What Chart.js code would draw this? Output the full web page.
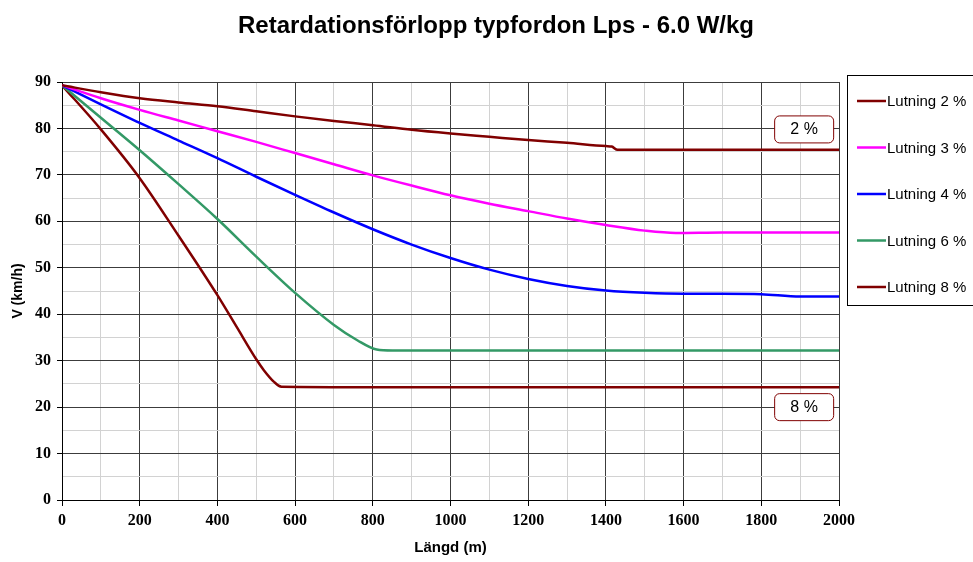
<!DOCTYPE html>
<html lang="sv">
<head>
    <meta charset="UTF-8">
    <title>Retardationsförlopp typfordon Lps - 6.0 W/kg</title>
    <script src="https://cdn.jsdelivr.net/npm/chart.js"></script>
    <style>
        html, body { margin: 0; padding: 0; background: #fff; }
        .chart-container { position: relative; width: 973px; height: 562px; }
    </style>
</head>
<body>
    <div class="chart-container">
        <canvas id="retChart" width="973" height="562"></canvas>
    </div>

    <script>
        // Längd (m) och hastighet (km/h)
        const len2 = [0, 100, 200, 300, 400, 500, 600, 700, 800, 900, 1000, 1100, 1200, 1300, 1400, 1415, 1430, 1600, 1800, 2000];
        const speed2 = [89.3, 87.8, 86.5, 85.6, 84.8, 83.7, 82.6, 81.6, 80.7, 79.7, 78.9, 78.2, 77.5, 76.9, 76.2, 76.1, 75.4, 75.4, 75.4, 75.4];

        const len3 = [0, 100, 200, 300, 400, 500, 600, 700, 800, 900, 1000, 1100, 1200, 1300, 1400, 1500, 1580, 1700, 1850, 2000];
        const speed3 = [89.3, 86.5, 84.0, 81.7, 79.4, 77.1, 74.7, 72.3, 69.9, 67.7, 65.6, 63.8, 62.2, 60.6, 59.2, 58.0, 57.5, 57.6, 57.6, 57.6];

        const len4 = [0, 100, 200, 300, 400, 500, 600, 700, 800, 900, 1000, 1100, 1200, 1300, 1400, 1500, 1600, 1700, 1800, 1900, 2000];
        const speed4 = [89.3, 85.2, 81.2, 77.4, 73.6, 69.6, 65.7, 61.9, 58.3, 55.0, 52.1, 49.6, 47.6, 46.1, 45.1, 44.6, 44.4, 44.4, 44.3, 43.8, 43.8];

        const len6 = [0, 100, 200, 300, 400, 500, 600, 700, 760, 810, 850, 1200, 1600, 2000];
        const speed6 = [89.3, 82.3, 75.3, 68.0, 60.5, 52.4, 44.6, 37.7, 34.4, 32.4, 32.2, 32.2, 32.2, 32.2];

        const len8 = [0, 100, 200, 300, 400, 450, 500, 520, 545, 565, 800, 1200, 1600, 2000];
        const speed8 = [89.3, 79.8, 69.3, 56.9, 44.1, 37.2, 30.3, 27.9, 25.5, 24.4, 24.3, 24.3, 24.3, 24.3];

        const seriesNames = ['Lutning 2 %', 'Lutning 3 %', 'Lutning 4 %', 'Lutning 6 %', 'Lutning 8 %'];
        const seriesColors = ['#800000', '#ff00ff', '#0000ff', '#339966', '#800000'];

        // etiketter i diagrammet: text, längd, hastighet
        const noteText = ['2 %', '8 %'];
        const noteLen = [1909, 1909];
        const noteSpeed = [79.9, 20.1];

        function toPoints(xs, ys) {
            return xs.map((x, i) => ({ x: x, y: ys[i] }));
        }

        const allData = [
            toPoints(len2, speed2),
            toPoints(len3, speed3),
            toPoints(len4, speed4),
            toPoints(len6, speed6),
            toPoints(len8, speed8)
        ];

        const MAJOR = '#3c3c3c';
        const MINOR = '#d2d2d2';

        // titel, legend och etiketter ritas för hand
        const extras = {
            id: 'extras',
            afterDraw(chart) {
                const ctx = chart.ctx;
                const xs = chart.scales.x, ys = chart.scales.y;
                ctx.save();

                ctx.fillStyle = '#000';
                ctx.font = 'bold 24px "Liberation Sans", Arial, sans-serif';
                ctx.textAlign = 'center';
                ctx.textBaseline = 'middle';
                ctx.fillText('Retardationsförlopp typfordon Lps - 6.0 W/kg', 496, 26);

                // legend
                ctx.strokeStyle = '#000';
                ctx.lineWidth = 1;
                ctx.strokeRect(847.5, 75.5, 140, 230);
                ctx.font = '15px "Liberation Sans", Arial, sans-serif';
                ctx.textAlign = 'left';
                for (let i = 0; i < seriesNames.length; i++) {
                    const y = 101 + i * 46.5;
                    ctx.strokeStyle = seriesColors[i];
                    ctx.lineWidth = 2.5;
                    ctx.beginPath();
                    ctx.moveTo(857, y);
                    ctx.lineTo(886, y);
                    ctx.stroke();
                    ctx.fillStyle = '#000';
                    ctx.fillText(seriesNames[i], 887, y + 1);
                }

                // etikettrutor
                ctx.font = '16px "Liberation Sans", Arial, sans-serif';
                ctx.textAlign = 'center';
                for (let i = 0; i < noteText.length; i++) {
                    const cx = xs.getPixelForValue(noteLen[i]);
                    const cy = ys.getPixelForValue(noteSpeed[i]);
                    const w = 59, h = 27;
                    ctx.beginPath();
                    ctx.roundRect(cx - w / 2 + 0.5, cy - h / 2 + 0.5, w, h, 5);
                    ctx.fillStyle = '#fff';
                    ctx.fill();
                    ctx.strokeStyle = '#800000';
                    ctx.lineWidth = 1;
                    ctx.stroke();
                    ctx.fillStyle = '#000';
                    ctx.fillText(noteText[i], cx + 0.5, cy + 1);
                }
                ctx.restore();
            }
        };

        const ctx = document.getElementById('retChart').getContext('2d');
        const retChart = new Chart(ctx, {
            type: 'line',
            data: {
                datasets: allData.map((pts, i) => ({
                    label: seriesNames[i],
                    data: pts,
                    borderColor: seriesColors[i],
                    borderWidth: 2.5,
                    pointRadius: 0,
                    fill: false,
                    cubicInterpolationMode: 'monotone'
                }))
            },
            options: {
                responsive: false,
                animation: false,
                layout: { padding: { top: 82, right: 134, left: 0, bottom: 0 } },
                plugins: {
                    legend: { display: false },
                    title: { display: false },
                    tooltip: { enabled: false }
                },
                scales: {
                    x: {
                        type: 'linear',
                        min: 0,
                        max: 2000,
                        afterFit(scale) { scale.height = 62; },
                        ticks: {
                            stepSize: 100,
                            autoSkip: false,
                            maxRotation: 0,
                            padding: 5,
                            color: '#000',
                            font: { family: '"Liberation Serif", "Times New Roman", serif', size: 16, weight: 'bold' },
                            callback: v => (v % 200 === 0 ? v : '')
                        },
                        grid: {
                            color: c => (c.tick && c.tick.value % 200 === 0 ? MAJOR : MINOR),
                            tickColor: c => (c.tick && c.tick.value % 200 === 0 ? '#000' : 'rgba(0,0,0,0)'),
                            tickLength: 6
                        },
                        border: { color: '#000', width: 1 },
                        title: {
                            display: true,
                            text: 'Längd (m)',
                            color: '#000',
                            font: { family: '"Liberation Sans", Arial, sans-serif', size: 15, weight: 'bold' },
                            padding: { top: 0, bottom: 5 }
                        }
                    },
                    y: {
                        min: 0,
                        max: 90,
                        afterFit(scale) { scale.width = 62; },
                        ticks: {
                            stepSize: 5,
                            autoSkip: false,
                            padding: 6,
                            color: '#000',
                            font: { family: '"Liberation Serif", "Times New Roman", serif', size: 16, weight: 'bold' },
                            callback: v => (v % 10 === 0 ? v : '')
                        },
                        grid: {
                            color: c => (c.tick && c.tick.value % 10 === 0 ? MAJOR : MINOR),
                            tickColor: c => (c.tick && c.tick.value % 10 === 0 ? '#000' : 'rgba(0,0,0,0)'),
                            tickLength: 5
                        },
                        border: { color: '#000', width: 1 },
                        title: {
                            display: true,
                            text: 'V (km/h)',
                            color: '#000',
                            font: { family: '"Liberation Sans", Arial, sans-serif', size: 14, weight: 'bold' },
                            padding: { top: 10, bottom: 0 }
                        }
                    }
                }
            },
            plugins: [extras]
        });
    </script>
</body>
</html>
